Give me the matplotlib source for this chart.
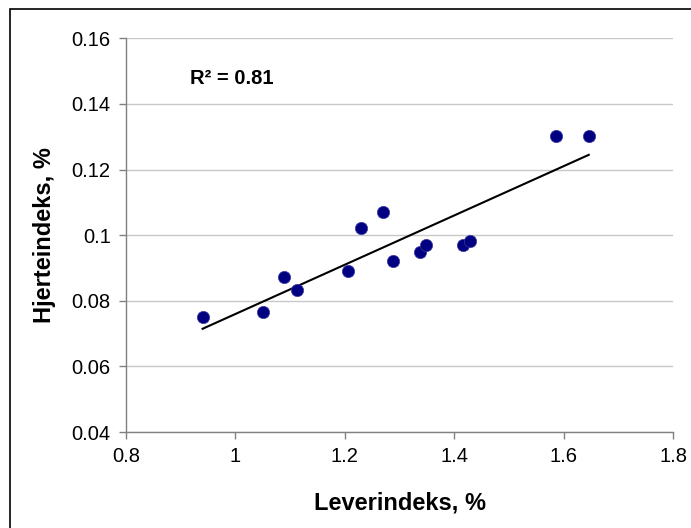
import numpy as np
import matplotlib.pyplot as plt
from matplotlib.patches import Rectangle

# lever index vs heart index
lever = [0.940, 1.051, 1.088, 1.112, 1.205, 1.230, 1.269, 1.289,
         1.338, 1.348, 1.416, 1.429, 1.587, 1.646]
hjerte = [0.0750, 0.0767, 0.0871, 0.0832, 0.0890, 0.1022, 0.1071, 0.0922,
          0.0950, 0.0970, 0.0970, 0.0981, 0.1302, 0.1302]
r2_label = "R² = 0.81"
x_ticks = [0.8, 1, 1.2, 1.4, 1.6, 1.8]
y_ticks = [0.04, 0.06, 0.08, 0.1, 0.12, 0.14, 0.16]

plt.rcParams['font.family'] = ['Liberation Sans', 'DejaVu Sans']

W, H = 691, 528
fig = plt.figure(figsize=(W / 100, H / 100), dpi=100)

# frame round the chart (only left/top edges fall inside the image)
fig.patches.append(Rectangle((10 / W, 0 - 0.05), 1.1, 1 - 9 / H + 0.05,
                             transform=fig.transFigure, fill=False,
                             edgecolor="black", linewidth=1.2))

ax = fig.add_axes([126 / W, 1 - 432 / H, (673 - 126) / W, (432 - 38.3) / H])

ax.scatter(lever, hjerte, s=78, color="#000080", edgecolors="#3a3aa0",
           linewidths=0.5, zorder=3)

# linear trendline
k, m = np.polyfit(lever, hjerte, 1)
xs = np.array([min(lever), max(lever)])
ax.plot(xs, k * xs + m, color="black", linewidth=1.5, zorder=2)

ax.set_xlim(0.8, 1.8)
ax.set_ylim(0.04, 0.16)
ax.set_xticks(x_ticks)
ax.set_yticks(y_ticks)
ax.set_xticklabels([f"{t:g}" for t in x_ticks])
ax.set_yticklabels([f"{t:g}" for t in y_ticks])

ax.yaxis.grid(True, color="#c8c8c8", linewidth=1)
ax.set_axisbelow(True)
for side in ["top", "right"]:
    ax.spines[side].set_visible(False)
for side in ["left", "bottom"]:
    ax.spines[side].set_color("#808080")
    ax.spines[side].set_linewidth(1)
ax.tick_params(direction="out", length=5, width=1, color="#808080",
               labelsize=14.5, pad=6)

ax.set_xlabel("Leverindeks, %", fontsize=17, fontweight="bold", labelpad=18)
ax.set_ylabel("Hjerteindeks, %", fontsize=17, fontweight="bold", labelpad=11)

fig.text(190 / W, 1 - 79 / H, r2_label, fontsize=14.5, fontweight="bold",
         va="center", ha="left")

fig.savefig("out.png", dpi=100)
